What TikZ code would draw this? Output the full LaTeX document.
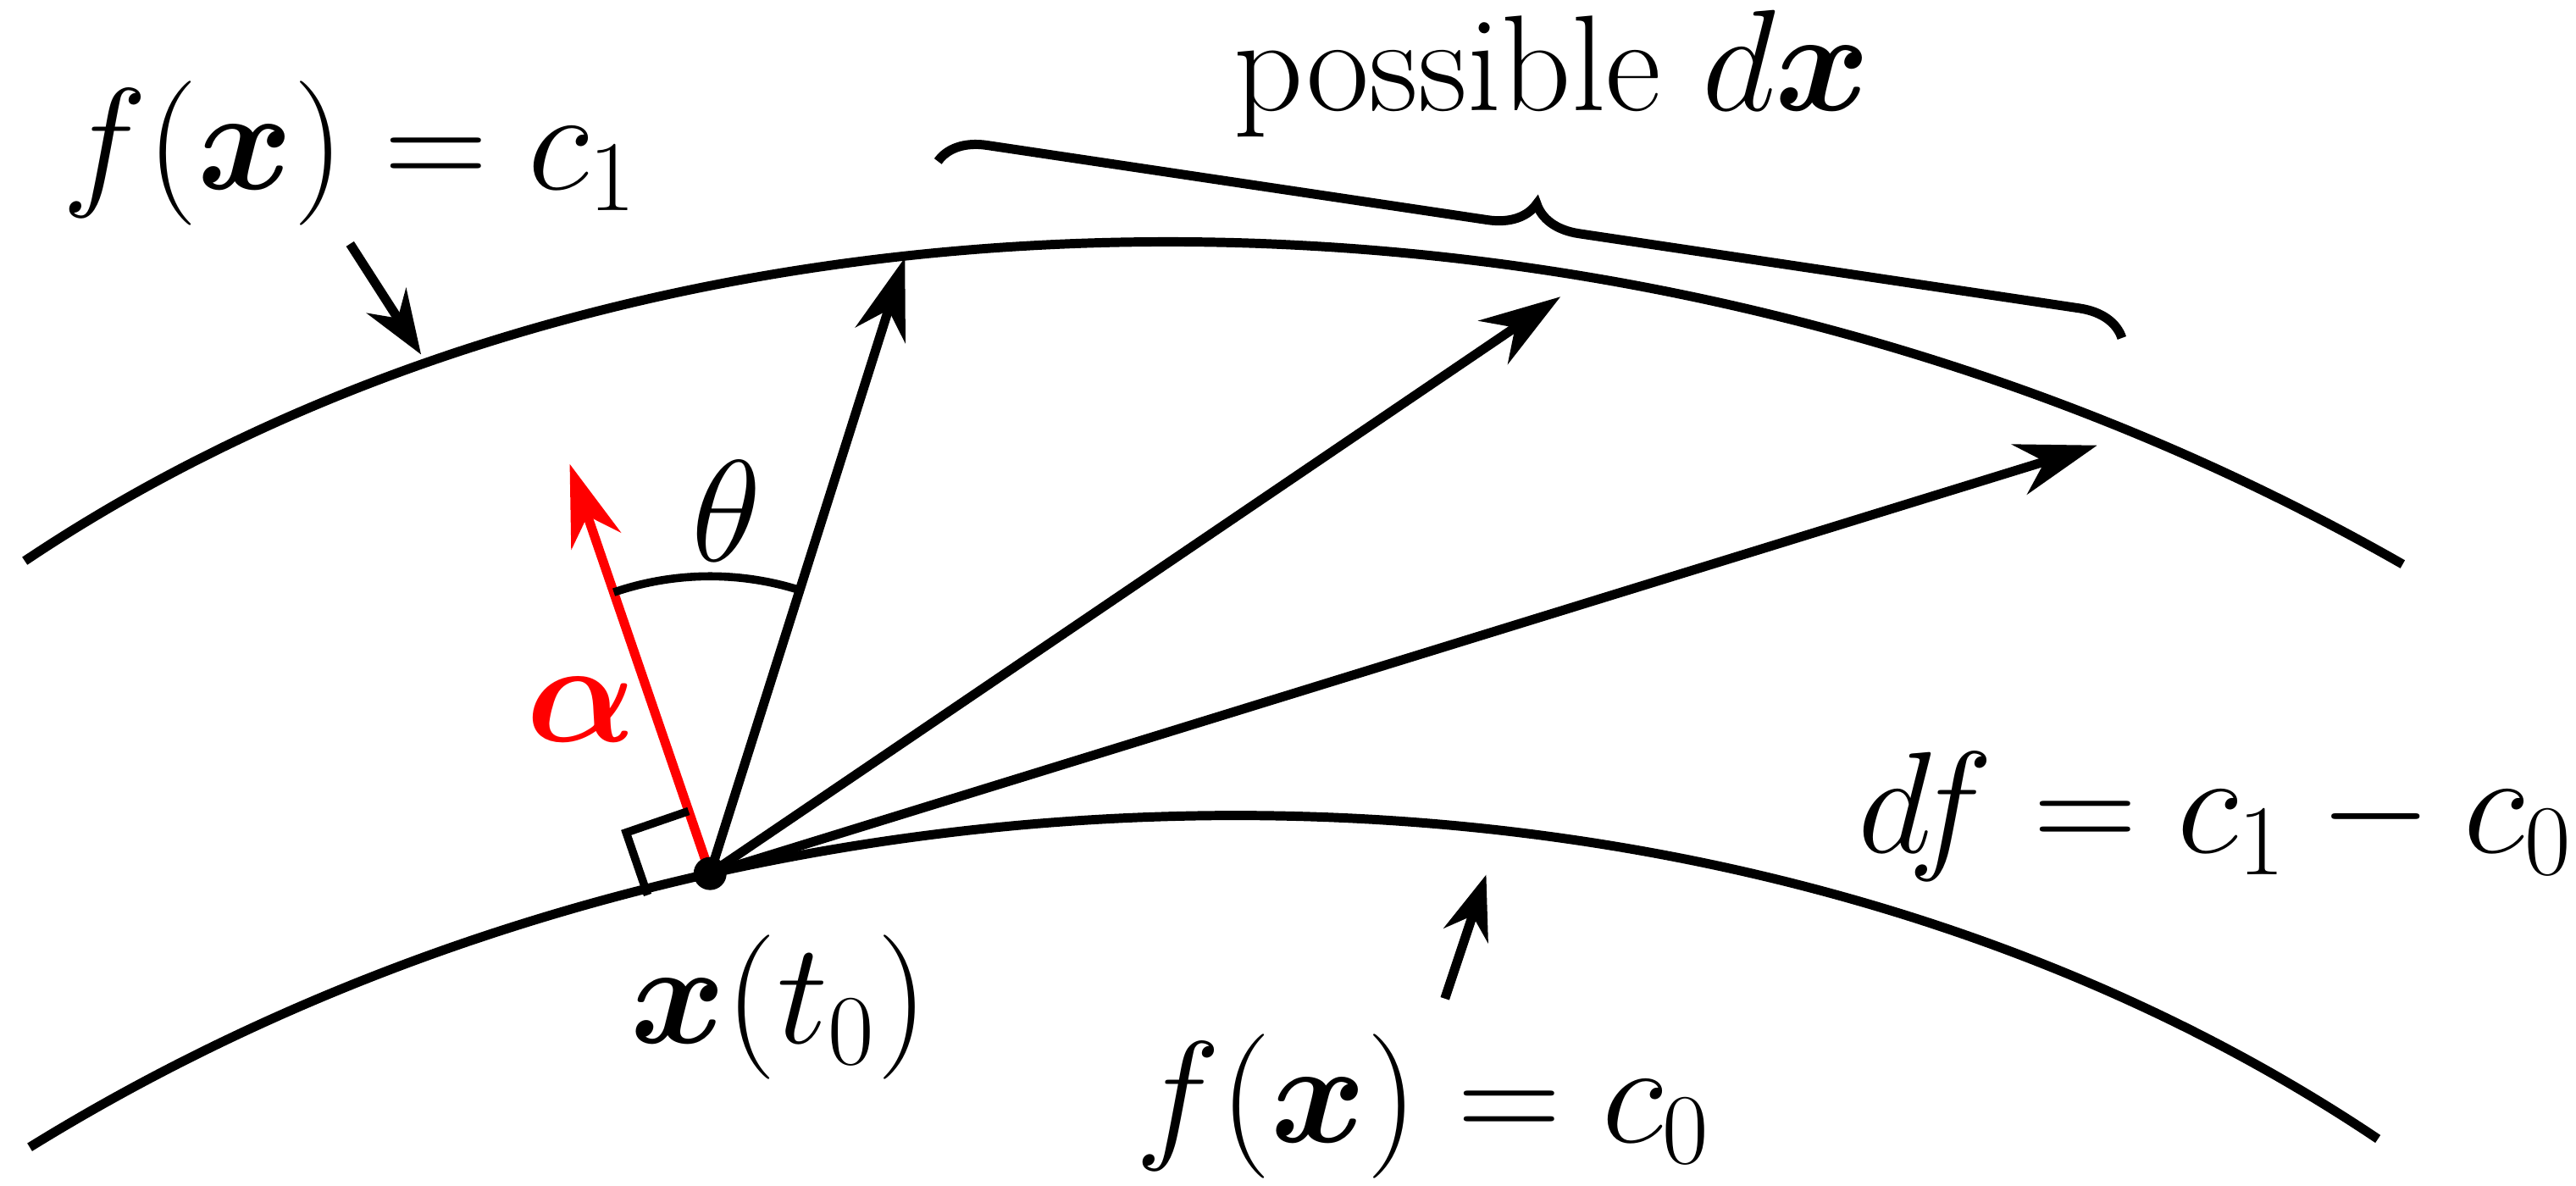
\documentclass[tikz,border=0pt]{standalone}
\usepackage{amsmath,bm}
\usetikzlibrary{decorations.pathreplacing,arrows.meta}
\begin{document}
\begin{tikzpicture}[
  vec/.style={line width=1.6pt,-{Stealth[length=14pt,width=9pt]}},
  curve/.style={line width=1.6pt},
  lbl/.style={font=\fontsize{23.5}{26}\selectfont, inner sep=0pt}]
\useasboundingbox (0,0) rectangle (15.6,7.177);
\draw[curve] (0.15,3.78) .. controls (4,6.36) and (10,6.36) .. (14.55,3.76);
\draw[curve] (0.18,0.23) .. controls (4.5,2.9) and (10.5,2.9) .. (14.4,0.28) coordinate[pos=0.292] (x0);
\draw[vec] (x0) -- ++(1.18,3.73) coordinate (a1);
\draw[vec] (x0) -- (9.45,5.38) coordinate (a2);
\draw[vec] (x0) -- (12.7,4.48) coordinate (a3);
\draw[vec,red] (x0) -- ++(-0.85,2.48) coordinate (ra);
\draw[line width=1.4pt] (x0) ++(-0.378,-0.13) -- ++(-0.13,0.378) -- ++(0.378,0.13);
\draw[line width=1.4pt] (x0) ++(108.9:1.8) arc[start angle=108.9,end angle=72.4,radius=1.8];
\fill (x0) circle (0.1);
\node[lbl] (th) at (4.4,4.08) {$\theta$};
\node[lbl,red] (al) at (3.52,2.88) {$\bm{\alpha}$};
\node[lbl] (xt) at (4.72,1.08) {$\bm{x}(t_0)$};
\node[lbl] (c1) at (2.12,6.25) {$f(\bm{x})=c_1$};
\node[lbl] (c0) at (8.62,0.48) {$f(\bm{x})=c_0$};
\node[lbl] (df) at (13.42,2.23) {$df=c_1-c_0$};
\node[lbl] (pd) at (9.4,6.73) {possible $d\bm{x}$};
\coordinate (p1) at (2.12,5.7); \coordinate (p2) at (2.55,5.03);
\draw[vec,-{Stealth[length=11pt,width=8pt]}] (p1) -- (p2);
\coordinate (q1) at (8.75,1.13); \coordinate (q2) at (9.0,1.88);
\draw[vec,-{Stealth[length=11pt,width=8pt]}] (q1) -- (q2);
\coordinate (b1) at (5.68,6.2); \coordinate (b2) at (12.85,5.13);
\draw[line width=1.6pt,decorate,decoration={brace,amplitude=0.28cm}] (b1) -- (b2);
\end{tikzpicture}
\end{document}
